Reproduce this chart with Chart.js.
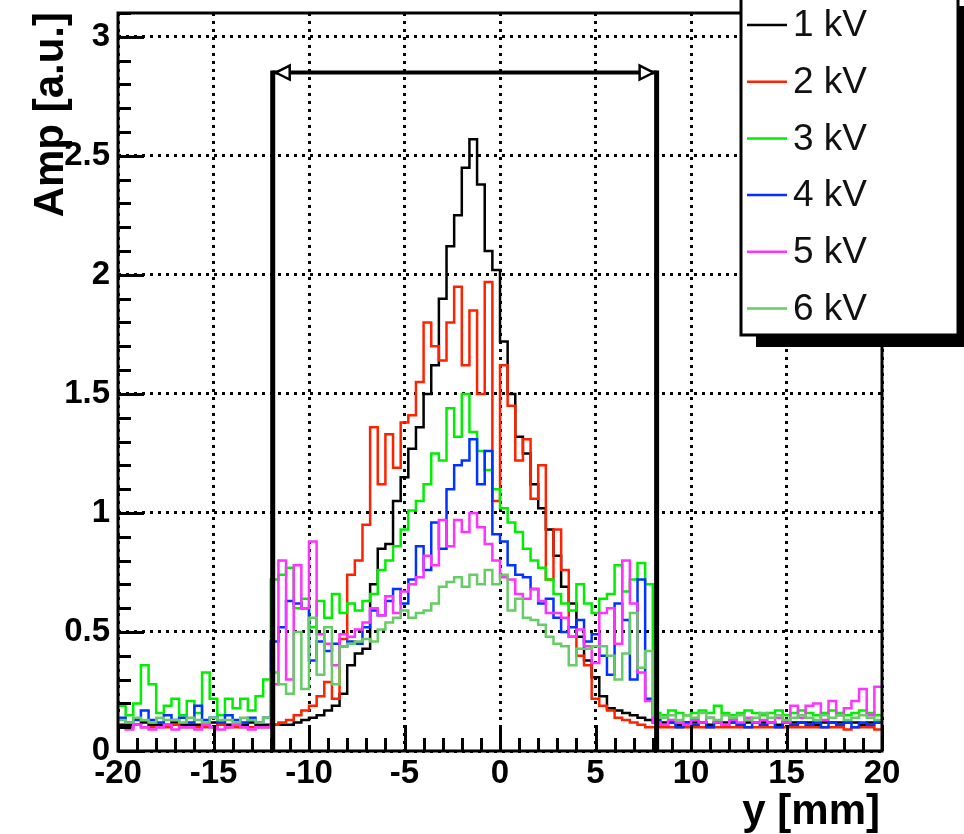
<!DOCTYPE html>
<html><head><meta charset="utf-8">
<script src="https://cdn.jsdelivr.net/npm/chart.js@4.4.1/dist/chart.umd.min.js"></script>
<style>html,body{margin:0;padding:0;background:#fff;} #wrap{width:964px;height:834px;position:relative;}</style>
</head><body><div id="wrap"><canvas id="c"></canvas></div>
<script>
// ---- data (histogram bins of 0.4 mm from -20 to 20 mm) ----
const seriesLabels = ['1 kV', '2 kV', '3 kV', '4 kV', '5 kV', '6 kV'];
const binLow = -20;
const binWidth = 0.4;
const xTicks = [-20, -15, -10, -5, 0, 5, 10, 15, 20];
const yTicks = [0, 0.5, 1, 1.5, 2, 2.5, 3];
const windowEdges = [-11.9, 8.2];
const arrowLevel = 2.85;

const amp1kV = [
  0.11,0.11,0.11,0.12,0.11,0.11,0.11,0.12,0.11,0.11,0.11,0.11,0.12,0.11,0.11,0.11,0.11,0.12,0.11,0.11,
  0.11,0.11,0.11,0.12,0.13,0.14,0.15,0.17,0.19,0.24,
  0.36,0.41,0.43,0.70,0.85,0.87,1.05,1.15,1.27,1.36,
  1.50,1.62,1.90,2.12,2.25,2.45,2.57,2.38,2.10,2.02,
  1.72,1.50,1.32,1.25,1.12,1.02,0.93,0.82,0.69,0.62,
  0.48,0.38,0.31,0.23,0.18,0.17,0.16,0.15,0.14,0.13,
  0.12,0.12,0.12,0.11,0.12,0.12,0.12,0.11,0.12,0.12,
  0.12,0.11,0.12,0.12,0.12,0.12,0.11,0.12,0.12,0.12,
  0.12,0.11,0.12,0.12,0.12,0.12,0.12,0.11,0.12,0.12
];
const amp2kV = [
  0.10,0.10,0.11,0.10,0.10,0.10,0.10,0.11,0.10,0.10,0.10,0.10,0.10,0.11,0.10,0.10,0.10,0.10,0.10,0.10,
  0.11,0.12,0.13,0.15,0.17,0.19,0.23,0.29,0.22,0.47,
  0.74,0.80,0.95,1.36,1.12,1.33,1.19,1.38,1.41,1.55,
  1.80,1.70,1.64,1.80,1.95,1.62,1.85,1.50,1.97,1.05,
  1.62,1.45,1.22,1.31,1.06,1.20,0.72,0.93,0.76,0.48,
  0.40,0.36,0.22,0.19,0.17,0.14,0.13,0.12,0.11,0.10,
  0.10,0.10,0.10,0.10,0.10,0.10,0.10,0.10,0.10,0.10,
  0.10,0.10,0.10,0.10,0.10,0.10,0.10,0.10,0.10,0.10,
  0.10,0.10,0.10,0.10,0.10,0.09,0.10,0.10,0.10,0.09
];
const amp3kV = [
  0.19,0.15,0.20,0.36,0.28,0.16,0.19,0.22,0.15,0.21,0.16,0.33,0.22,0.15,0.22,0.18,0.22,0.17,0.23,0.30,
  0.72,0.74,0.77,0.60,0.64,0.52,0.63,0.56,0.66,0.58,
  0.62,0.59,0.63,0.66,0.76,0.80,0.86,0.93,1.01,1.05,
  1.12,1.25,1.22,1.44,1.32,1.50,1.34,1.26,1.18,1.10,
  1.02,0.96,0.92,0.85,0.80,0.77,0.72,0.66,0.62,0.59,
  0.70,0.62,0.58,0.64,0.66,0.78,0.67,0.72,0.79,0.70,
  0.16,0.15,0.17,0.16,0.15,0.16,0.17,0.16,0.19,0.16,
  0.15,0.16,0.17,0.16,0.15,0.16,0.17,0.15,0.16,0.17,
  0.16,0.15,0.16,0.17,0.16,0.15,0.16,0.17,0.16,0.15
];
const amp4kV = [
  0.14,0.12,0.13,0.17,0.13,0.12,0.15,0.13,0.14,0.12,0.19,0.13,0.14,0.12,0.15,0.13,0.12,0.14,0.12,0.14,
  0.46,0.52,0.63,0.62,0.60,0.38,0.46,0.42,0.45,0.44,
  0.46,0.45,0.52,0.59,0.57,0.63,0.68,0.62,0.72,0.86,
  0.76,0.96,0.85,1.10,1.20,1.22,1.31,1.12,1.26,0.91,
  0.88,0.78,0.74,0.73,0.68,0.62,0.64,0.56,0.50,0.52,
  0.55,0.46,0.49,0.40,0.32,0.62,0.55,0.30,0.72,0.22,
  0.13,0.11,0.12,0.10,0.12,0.11,0.12,0.10,0.12,0.11,
  0.12,0.11,0.10,0.12,0.11,0.12,0.10,0.12,0.11,0.12,
  0.11,0.12,0.10,0.12,0.11,0.12,0.10,0.12,0.11,0.12
];
const amp5kV = [
  0.10,0.09,0.11,0.10,0.09,0.10,0.11,0.09,0.10,0.10,0.09,0.11,0.10,0.09,0.10,0.11,0.10,0.09,0.10,0.10,
  0.28,0.80,0.30,0.78,0.60,0.88,0.49,0.45,0.36,0.49,
  0.48,0.51,0.54,0.60,0.57,0.65,0.58,0.67,0.70,0.73,
  0.82,0.78,0.97,0.86,0.97,0.92,1.00,0.94,0.87,0.80,
  0.73,0.72,0.66,0.64,0.68,0.63,0.58,0.58,0.56,0.48,
  0.51,0.44,0.37,0.58,0.60,0.45,0.80,0.62,0.33,0.21,
  0.12,0.11,0.13,0.12,0.11,0.13,0.12,0.14,0.12,0.11,
  0.13,0.12,0.14,0.12,0.13,0.12,0.14,0.12,0.19,0.14,
  0.19,0.20,0.13,0.21,0.15,0.18,0.21,0.26,0.15,0.27
];
const amp6kV = [
  0.13,0.12,0.14,0.13,0.12,0.14,0.13,0.13,0.12,0.14,0.13,0.12,0.14,0.13,0.13,0.12,0.14,0.13,0.12,0.14,
  0.33,0.28,0.24,0.50,0.26,0.56,0.32,0.52,0.28,0.44,
  0.45,0.46,0.47,0.46,0.51,0.54,0.56,0.59,0.56,0.58,
  0.59,0.62,0.69,0.71,0.73,0.69,0.74,0.70,0.76,0.70,
  0.74,0.59,0.64,0.56,0.55,0.53,0.48,0.45,0.44,0.36,
  0.43,0.43,0.44,0.44,0.40,0.30,0.41,0.58,0.35,0.42,
  0.15,0.14,0.15,0.13,0.15,0.14,0.16,0.14,0.13,0.15,
  0.14,0.15,0.13,0.14,0.16,0.14,0.15,0.13,0.14,0.15,
  0.14,0.13,0.15,0.14,0.15,0.13,0.14,0.15,0.14,0.13
];
const seriesValues = [amp1kV, amp2kV, amp3kV, amp4kV, amp5kV, amp6kV];

// ---- styling ----
const seriesColors = ['#000000', '#ff2200', '#00ee00', '#0033ff', '#ff33ff', '#66cc66'];
const FONT = '"Liberation Sans", Arial, sans-serif';

function toPoints(vals) {
  const pts = [{x: binLow, y: vals[0]}];
  vals.forEach((v, i) => pts.push({x: binLow + binWidth * (i + 0.5), y: v}));
  pts.push({x: binLow + binWidth * vals.length, y: vals[vals.length - 1]});
  return pts;
}

const datasets = seriesLabels.map((lab, i) => ({
  label: lab,
  data: toPoints(seriesValues[i]),
  borderColor: seriesColors[i],
  backgroundColor: seriesColors[i],
  borderWidth: 2.5,
  pointRadius: 0,
  stepped: 'middle',
  fill: false,
  order: seriesLabels.length - i
}));

const rootDecor = {
  id: 'rootDecor',
  afterDraw(chart) {
    const {ctx, chartArea: a, scales: {x, y}} = chart;
    ctx.save();
    ctx.strokeStyle = '#000';
    ctx.lineCap = 'butt';
    // ticks inside frame
    ctx.lineWidth = 3;
    ctx.beginPath();
    for (let k = -20; k <= 20; k++) {
      const px = Math.round(x.getPixelForValue(k)) + 0.5;
      const len = (k % 5 === 0) ? 26 : 13;
      ctx.moveTo(px, a.bottom); ctx.lineTo(px, a.bottom - len);
    }
    for (let k = 0; k <= 31; k++) {
      const py = Math.round(y.getPixelForValue(k / 10)) + 0.5;
      const len = (k % 5 === 0) ? 26 : 13;
      ctx.moveTo(a.left, py); ctx.lineTo(a.left + len, py);
    }
    ctx.stroke();
    // frame
    ctx.lineWidth = 3;
    ctx.strokeRect(a.left, a.top, a.right - a.left, a.bottom - a.top);

    // window markers and arrow
    const xl = x.getPixelForValue(windowEdges[0]);
    const xr = x.getPixelForValue(windowEdges[1]);
    const ya = y.getPixelForValue(arrowLevel);
    ctx.lineWidth = 5;
    ctx.beginPath();
    ctx.moveTo(xl, a.bottom); ctx.lineTo(xl, ya - 2);
    ctx.moveTo(xr, a.bottom); ctx.lineTo(xr, ya - 2);
    ctx.stroke();
    ctx.lineWidth = 4;
    ctx.beginPath();
    ctx.moveTo(xl, ya); ctx.lineTo(xr, ya);
    ctx.stroke();
    ctx.lineWidth = 2.5;
    ctx.fillStyle = '#fff';
    [[xl + 3, 1], [xr - 3, -1]].forEach(([tip, d]) => {
      ctx.beginPath();
      ctx.moveTo(tip, ya);
      ctx.lineTo(tip + d * 14, ya - 7);
      ctx.lineTo(tip + d * 14, ya + 7);
      ctx.closePath();
      ctx.fill(); ctx.stroke();
    });

    // legend box with shadow
    const lx = 741, ly = -6, lw = 217, lh = 341;
    ctx.fillStyle = '#000';
    ctx.fillRect(lx + 15, ly + lh, lw, 12);
    ctx.fillRect(lx + lw, ly + 12, 12, lh);
    ctx.fillStyle = '#fff';
    ctx.fillRect(lx, ly, lw, lh);
    ctx.lineWidth = 3;
    ctx.strokeStyle = '#000';
    ctx.strokeRect(lx, ly, lw, lh);
    ctx.font = '37px ' + FONT;
    ctx.textBaseline = 'middle';
    ctx.textAlign = 'left';
    seriesLabels.forEach((lab, i) => {
      const yy = 25 + i * 56.7;
      ctx.strokeStyle = seriesColors[i];
      ctx.lineWidth = 2.5;
      ctx.beginPath(); ctx.moveTo(747, yy); ctx.lineTo(787, yy); ctx.stroke();
      ctx.fillStyle = '#111';
      ctx.fillText(lab, 793, yy + 1);
    });

    // axis titles
    ctx.fillStyle = '#000';
    ctx.font = 'bold 42px ' + FONT;
    ctx.textBaseline = 'alphabetic';
    ctx.textAlign = 'right';
    ctx.fillText('y [mm]', 880, 824);
    ctx.save();
    ctx.translate(63, 12);
    ctx.rotate(-Math.PI / 2);
    ctx.textAlign = 'right';
    ctx.fillText('Amp [a.u.]', 0, 0);
    ctx.restore();
    ctx.restore();
  }
};

new Chart(document.getElementById('c'), {
  type: 'line',
  data: {datasets},
  plugins: [rootDecor],
  options: {
    responsive: true,
    maintainAspectRatio: false,
    animation: false,
    devicePixelRatio: 1,
    layout: {padding: {top: 13, right: 82, left: 0, bottom: 0}},
    plugins: {legend: {display: false}, tooltip: {enabled: false}},
    scales: {
      x: {
        type: 'linear', min: -20, max: 20,
        afterBuildTicks: s => { s.ticks = xTicks.map(v => ({value: v})); },
        afterFit: s => { s.height = 83; s.paddingLeft = 0; s.paddingRight = 0; },
        ticks: {font: {family: FONT, size: 33, weight: 'bold'}, color: '#000', padding: 3, maxRotation: 0, autoSkip: false,
                callback: v => String(v)},
        grid: {color: '#000', lineWidth: 3, drawTicks: false, tickLength: 0},
        border: {display: false, dash: [3, 5]}
      },
      y: {
        type: 'linear', min: 0, max: 3.1,
        afterBuildTicks: s => { s.ticks = yTicks.map(v => ({value: v})); },
        afterFit: s => { s.width = 118; s.paddingTop = 0; s.paddingBottom = 0; },
        ticks: {font: {family: FONT, size: 33, weight: 'bold'}, color: '#000', padding: 8, autoSkip: false,
                callback: v => String(v)},
        grid: {color: '#000', lineWidth: 3, drawTicks: false, tickLength: 0},
        border: {display: false, dash: [3, 5]}
      }
    }
  }
});
</script>
</body></html>
